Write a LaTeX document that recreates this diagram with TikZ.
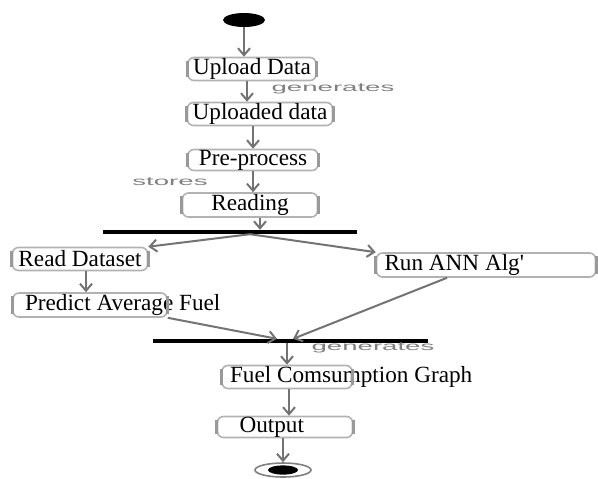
\documentclass[tikz,border=0pt]{standalone}
\usepackage{fontspec}
\setmainfont{Liberation Serif}
\newfontfamily\lblfont[FakeStretch=2.3]{Liberation Sans}
\usetikzlibrary{arrows.meta,shapes.geometric}
\tikzset{
  act/.style={draw=gray!60, line width=0.8pt, rounded corners=3pt, minimum height=11.5pt,
    inner sep=0pt, font=\fontsize{11.6}{13}\selectfont},
  bar/.style={fill=black, minimum height=1.8pt, inner sep=0pt},
  flow/.style={draw=gray!90!black, line width=1pt, -{Straight Barb[length=3.5pt,width=6pt]}},
  lbl/.style={text=gray, font=\lblfont\fontsize{6}{7}\selectfont, inner sep=0pt}
}
\begin{document}
\begin{tikzpicture}[x=0.5pt,y=-0.5pt]
  \useasboundingbox (0,0) rectangle (598,478);
  \node (s) [ellipse, fill=black, minimum width=21pt, minimum height=7pt, inner sep=0pt] at (244,20) {};
  \node (u) [act, minimum width=64pt] at (252,69) {Upload Data};
  \node (ud) [act, minimum width=72.5pt] at (260,114) {Uploaded data};
  \node (pp) [act, minimum width=65pt, minimum height=10.5pt] at (253,160) {Pre-process};
  \node (r) [act, minimum width=67.5pt, minimum height=12pt] at (250,205) {Reading};
  \node (f) [bar, minimum width=127pt] at (230,232) {};
  \node (d) [act, minimum width=67.5pt] at (80,259) {Read Dataset};
  \node (a) [act, minimum height=12pt] at (486,265) {\makebox[109.5pt][l]{\hspace{4pt}Run ANN Alg\textquotesingle}};
  \node (p) [act, minimum height=12pt] at (90,305) {\makebox[77pt][l]{\hspace{6pt}Predict Average Fuel}};
  \node (j) [bar, minimum width=137.5pt] at (290,341) {};
  \node (g) [act] at (287,377) {\makebox[65pt][l]{\hspace{4pt}Fuel Comsumption Graph}};
  \node (o) [act, minimum height=10.5pt] at (285,427) {\makebox[67.5pt][l]{\hspace{11pt}Output}};
  \node (e) [ellipse, draw=gray, line width=0.8pt, minimum width=28pt, minimum height=7pt, inner sep=0pt] at (283,470) {};
  \fill (e.center) ellipse (7.5pt and 2.3pt);
  \foreach \n in {u,ud,pp,r,d,a,p,g,o}
    \draw[gray!80, line width=1.4pt] ([yshift=-2pt]\n.north west) -- ([yshift=2pt]\n.south west)
      ([yshift=-2pt]\n.north east) -- ([yshift=2pt]\n.south east);

  \node (l1) [lbl] at (333,89) {generates};
  \node (l2) [lbl] at (170,182) {stores};
  \node (l3) [lbl] at (373,348) {generates};

  \draw[flow] (s) -- (s |- u.north);
  \draw[flow] ([xshift=-2.5pt]u.south) -- ([xshift=-2.5pt]u.south |- ud.north);
  \draw[flow] (pp.north |- ud.south) -- (pp.north);
  \draw[flow] (pp.south) -- (pp.south |- r.north);
  \draw[flow] ([xshift=5pt]r.south) -- ([xshift=5pt]r.south |- f.north);
  \draw[flow] (f.south -| r.south) -- (d.north east);
  \draw[flow] (f.south -| r.south) -- (a.north west);
  \draw[flow] ([xshift=3pt]d.south) -- ([xshift=3pt]d.south |- p.north);
  \draw[flow] (p.south east) -- ([xshift=-6.5pt]j.north);
  \draw[flow] ([xshift=-19.5pt]a.south) -- ([xshift=1.5pt]j.north);
  \draw[flow] (j.south -| g.north) -- (g.north);
  \draw[flow] ([xshift=1pt]g.south) -- ([xshift=1pt]g.south |- o.north);
  \draw[flow] (e.north |- o.south) -- (e.north);
\end{tikzpicture}
\end{document}
